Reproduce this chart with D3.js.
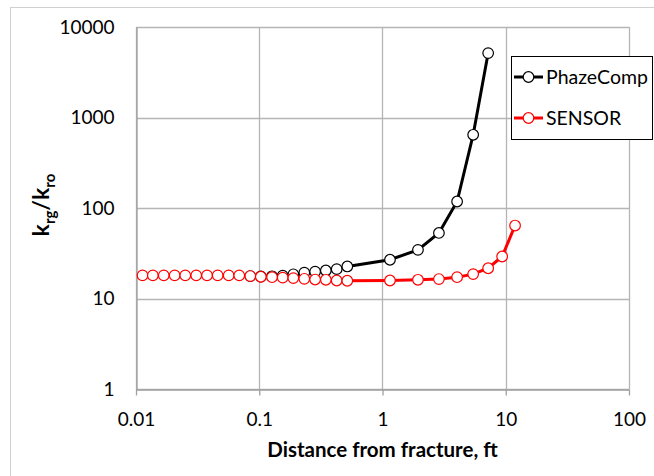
<!DOCTYPE html>
<html>
<head>
<meta charset="utf-8">
<script src="https://cdn.jsdelivr.net/npm/d3@7"></script>
<style>
  body { margin: 0; background: #fff; }
  text { font-family: Lato, "Open Sans", sans-serif; }
</style>
</head>
<body>
<div id="chart"></div>
<script>
// distances from fracture (ft), shared by both runs
const distance = [0.0113, 0.0137, 0.0168, 0.0206, 0.0251, 0.0308, 0.0377, 0.046, 0.0565, 0.0688,
  0.0846, 0.103, 0.127, 0.155, 0.189, 0.232, 0.284, 0.347, 0.425, 0.518,
  1.15, 1.94, 2.87, 4.03, 5.44, 7.2, 9.35, 11.9]
const sensorRatio = [18, 18, 18, 18, 18, 18, 18, 18, 18, 18,
  17.7, 17.4, 17.2, 17.0, 16.8, 16.5, 16.2, 16.1, 15.8, 15.7,
  15.8, 16.1, 16.4, 17.2, 18.6, 21.6, 29.1, 64]
// PhazeComp starts at index 10 of distance
const phazeStart = 10
const phazeRatio = [17.7, 17.5, 17.6, 17.9, 18.5, 19.3, 19.8, 20.4, 21.1, 22.6,
  26.8, 34.5, 53, 118, 644, 5150]
const xTicks = [0.01, 0.1, 1, 10, 100]
const yTicks = [1, 10, 100, 1000, 10000]

const width = 654
const height = 476
const margin = { left: 136, top: 27, right: 25, bottom: 87 }

const svg = d3.select('#chart')
  .append('svg')
  .attr('width', width)
  .attr('height', height)

// chart area border
svg.append('rect')
  .attr('x', 10.5).attr('y', 7.5)
  .attr('width', 700).attr('height', 500)
  .attr('fill', 'none')
  .attr('stroke', '#d0d0d0')

const x = d3.scaleLog().domain([0.01, 100]).range([margin.left, width - margin.right])
const y = d3.scaleLog().domain([1, 10000]).range([height - margin.bottom, margin.top])

// gridlines
svg.append('g').selectAll('line')
  .data(xTicks)
  .enter()
  .append('line')
  .attr('x1', d => Math.round(x(d)) + 0.5)
  .attr('x2', d => Math.round(x(d)) + 0.5)
  .attr('y1', y(10000))
  .attr('y2', y(1))
  .style('stroke', '#b5b5b5')
  .style('stroke-width', 1.3)

svg.append('g').selectAll('line')
  .data(yTicks)
  .enter()
  .append('line')
  .attr('x1', x(0.01))
  .attr('x2', x(100))
  .attr('y1', d => Math.round(y(d)) + 0.5)
  .attr('y2', d => Math.round(y(d)) + 0.5)
  .style('stroke', '#b5b5b5')
  .style('stroke-width', 1.3)

// x axis
const xAxis = svg.append('g')
  .attr('transform', `translate(0,${Math.round(y(1)) + 0.5})`)
  .call(d3.axisBottom(x).tickValues(xTicks).tickFormat(d3.format('~g')).tickSize(6).tickSizeOuter(0).tickPadding(17))
xAxis.select('.domain').attr('stroke', '#a0a0a0').attr('stroke-width', 1.3)
xAxis.selectAll('.tick line').attr('stroke', '#a0a0a0').attr('stroke-width', 1.3)
xAxis.selectAll('text').attr('font-size', 19).attr('fill', '#000')
  .style('font-family', 'Lato, "Open Sans", sans-serif')

// y axis
const yAxis = svg.append('g')
  .attr('transform', `translate(${Math.round(x(0.01)) + 0.5},0)`)
  .call(d3.axisLeft(y).tickValues(yTicks).tickFormat(d3.format('d')).tickSize(0).tickPadding(22))
yAxis.select('.domain').attr('stroke', '#a0a0a0').attr('stroke-width', 1.3)
yAxis.selectAll('text').attr('font-size', 19).attr('fill', '#000')
  .style('font-family', 'Lato, "Open Sans", sans-serif')

// axis titles
svg.append('text')
  .attr('x', x(1))
  .attr('y', 457)
  .attr('text-anchor', 'middle')
  .attr('font-size', 20.5)
  .attr('font-weight', 'bold')
  .text('Distance from fracture, ft')

const yTitle = svg.append('text')
  .attr('transform', `translate(49,${(y(1) + y(10000)) / 2 - 3}) rotate(-90)`)
  .attr('text-anchor', 'middle')
  .attr('font-size', 23)
  .attr('font-weight', 'bold')
yTitle.append('tspan').text('k')
yTitle.append('tspan').attr('font-size', 15).attr('dy', 6).text('rg')
yTitle.append('tspan').attr('dy', -6).text('/k')
yTitle.append('tspan').attr('font-size', 15).attr('dy', 6).text('ro')

// series
const phazeData = phazeRatio.map((v, i) => ({ x: distance[phazeStart + i], y: v }))
const sensorData = sensorRatio.map((v, i) => ({ x: distance[i], y: v }))

const line = d3.line().x(d => x(d.x)).y(d => y(d.y))

function drawSeries (data, color) {
  svg.append('path')
    .datum(data)
    .attr('d', line)
    .attr('fill', 'none')
    .attr('stroke', color)
    .attr('stroke-width', 3)
  svg.append('g').selectAll('circle')
    .data(data)
    .enter()
    .append('circle')
    .attr('cx', d => x(d.x))
    .attr('cy', d => y(d.y))
    .attr('r', 5.3)
    .attr('fill', '#fff')
    .attr('stroke', color)
    .attr('stroke-width', 1.2)
}

drawSeries(phazeData, '#000')
drawSeries(sensorData, '#ff0000')

// legend
const legend = svg.append('g')
legend.append('rect')
  .attr('x', 511.5).attr('y', 56.5)
  .attr('width', 141).attr('height', 83)
  .attr('fill', '#fff')
  .attr('stroke', '#000')
const legendItems = [{ name: 'PhazeComp', color: '#000', cy: 77 }, { name: 'SENSOR', color: '#ff0000', cy: 118 }]
legendItems.forEach(item => {
  legend.append('line')
    .attr('x1', 514).attr('x2', 543)
    .attr('y1', item.cy).attr('y2', item.cy)
    .attr('stroke', item.color).attr('stroke-width', 3)
  legend.append('circle')
    .attr('cx', 528.5).attr('cy', item.cy).attr('r', 5.3)
    .attr('fill', '#fff').attr('stroke', item.color).attr('stroke-width', 1.2)
  legend.append('text')
    .attr('x', 546).attr('y', item.cy)
    .attr('dy', '0.35em')
    .attr('font-size', 19.5)
    .text(item.name)
})
</script>
</body>
</html>
